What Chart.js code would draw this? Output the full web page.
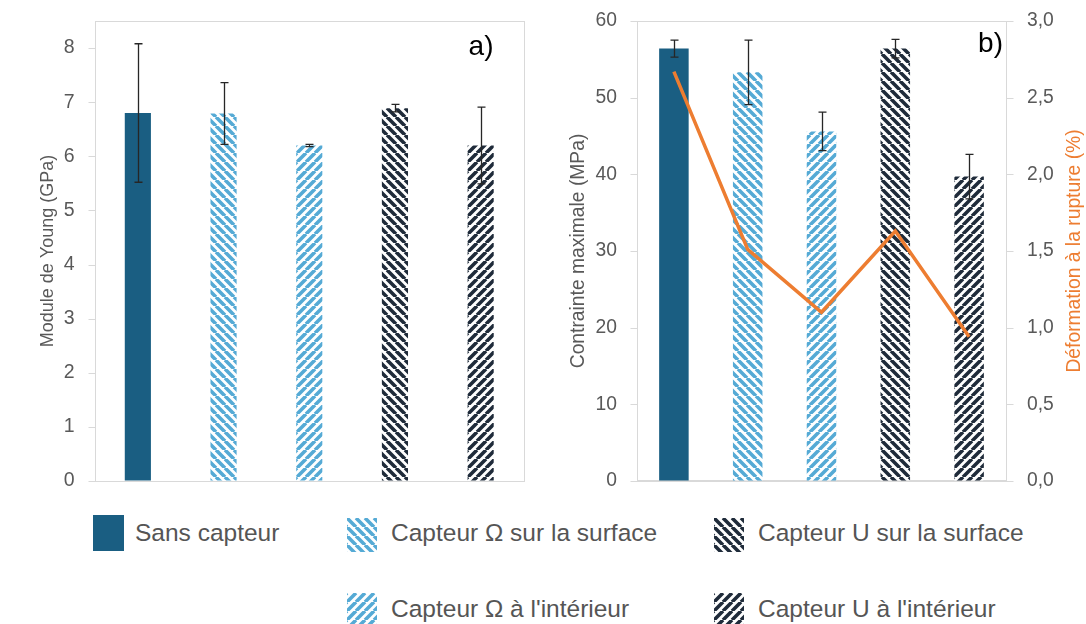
<!DOCTYPE html>
<html><head><meta charset="utf-8">
<script src="https://cdn.jsdelivr.net/npm/chart.js@4.4.0/dist/chart.umd.min.js"></script>
<style>
body{margin:0;background:#fff;width:1086px;height:624px;position:relative;overflow:hidden;font-family:"Liberation Sans",Arial,sans-serif;}
#ca{position:absolute;left:0;top:0;}
#cb{position:absolute;left:540px;top:0;}
.sw{position:absolute;}
.lt{position:absolute;font-size:24.5px;color:#555;line-height:30px;white-space:nowrap;}
</style></head><body>
<canvas id="ca" width="540" height="500"></canvas>
<canvas id="cb" width="546" height="500"></canvas>
<div id="legend"></div>
<script>
// ---- data ----
const categories = ["Sans capteur", "Capteur Ω sur la surface", "Capteur Ω à l'intérieur", "Capteur U sur la surface", "Capteur U à l'intérieur"];
const youngModulus = [6.80, 6.79, 6.20, 6.89, 6.20];
const youngErr = [1.28, 0.57, 0.02, 0.07, 0.71];
const maxStress = [56.4, 53.3, 45.6, 56.4, 39.7];
const stressErr = [1.1, 4.2, 2.5, 1.2, 2.9];
const strainAtBreak = [2.67, 1.51, 1.10, 1.63, 0.94];
const ticksYoung = [0, 1, 2, 3, 4, 5, 6, 7, 8];
const ticksStress = [0, 10, 20, 30, 40, 50, 60];
const ticksStrain = [0, 0.5, 1.0, 1.5, 2.0, 2.5, 3.0];
const legendRows = [[0, 1, 3], [null, 2, 4]];

// ---- styles ----
const SOLID = '#1A5E82', LIGHT = '#55AAD5', DARK = '#1F2B3A';
const fillSpec = [[SOLID, null], [LIGHT, 'down'], [LIGHT, 'up'], [DARK, 'down'], [DARK, 'up']];
const FONT = "'Liberation Sans', Arial, sans-serif";
const AXIS_GRAY = '#D9D9D9';
Chart.defaults.font.family = FONT;

function makeTile(color, dir) {
  const P = 9;
  const c = document.createElement('canvas'); c.width = P; c.height = P;
  const g = c.getContext('2d');
  g.fillStyle = '#fff'; g.fillRect(0, 0, P, P);
  g.strokeStyle = color; g.lineWidth = 3.6;
  g.beginPath();
  for (const k of [-P, 0, P]) {
    if (dir === 'down') { g.moveTo(k, 0); g.lineTo(k + P, P); }
    else { g.moveTo(k, P); g.lineTo(k + P, 0); }
  }
  g.stroke();
  return c;
}
function fillsFor(ctx) {
  return fillSpec.map(([col, dir]) => dir ? ctx.createPattern(makeTile(col, dir), 'repeat') : col);
}

const errorBarPlugin = {
  id: 'errorBars',
  afterDatasetsDraw(chart, args, opts) {
    const meta = chart.getDatasetMeta(opts.datasetIndex);
    const scale = chart.scales[meta.yAxisID];
    const ds = chart.data.datasets[opts.datasetIndex];
    const ctx = chart.ctx;
    ctx.save(); ctx.strokeStyle = '#262626'; ctx.lineWidth = 1.3;
    meta.data.forEach((bar, i) => {
      const v = ds.data[i], e = opts.errors[i];
      const yT = scale.getPixelForValue(v + e), yB = scale.getPixelForValue(v - e);
      const x = Math.round(bar.x) + 0.5;
      ctx.beginPath();
      ctx.moveTo(x, yT); ctx.lineTo(x, yB);
      ctx.moveTo(x - 4, yT); ctx.lineTo(x + 4, yT);
      ctx.moveTo(x - 4, yB); ctx.lineTo(x + 4, yB);
      ctx.stroke();
    });
    ctx.restore();
  }
};
// plot frame + short outer tick marks (7px) on the value axes
const framePlugin = {
  id: 'frame',
  beforeDatasetsDraw(chart) {
    const a = chart.chartArea, ctx = chart.ctx;
    ctx.save(); ctx.strokeStyle = AXIS_GRAY; ctx.lineWidth = 1;
    ctx.strokeRect(Math.round(a.left) + 0.5, Math.round(a.top) + 0.5, Math.round(a.right - a.left), Math.round(a.bottom - a.top));
    ctx.beginPath();
    Object.values(chart.scales).forEach(s => {
      if (s.axis !== 'y') return;
      const isRight = s.position === 'right';
      const x0 = isRight ? Math.round(a.right) + 0.5 : Math.round(a.left) + 0.5;
      const x1 = isRight ? x0 + 7 : x0 - 7;
      s.ticks.forEach(t => {
        const y = Math.round(s.getPixelForValue(t.value)) + 0.5;
        ctx.moveTo(x0, y); ctx.lineTo(x1, y);
      });
    });
    ctx.stroke();
    ctx.restore();
  }
};
const textPlugin = {
  id: 'texts',
  afterDraw(chart, args, opts) {
    const a = chart.chartArea, ctx = chart.ctx;
    ctx.save();
    ctx.fillStyle = '#000'; ctx.font = '28px ' + FONT;
    ctx.textAlign = 'right'; ctx.textBaseline = 'middle';
    ctx.fillText(opts.panel, a.right - opts.panelDx, opts.panelY);
    if (opts.rightTitle) {
      ctx.translate(opts.rightTitleX, (a.top + a.bottom) / 2);
      ctx.rotate(-Math.PI / 2);
      ctx.textAlign = 'center';
      ctx.fillStyle = '#ED7D31'; ctx.font = '19.3px ' + FONT;
      ctx.fillText(opts.rightTitle, 0, 0);
    }
    ctx.restore();
  }
};

function yAxis(opts) {
  return Object.assign({
    grid: { display: true, drawOnChartArea: false, drawTicks: true, tickLength: 13.5, tickColor: 'rgba(0,0,0,0)', color: AXIS_GRAY },
    border: { display: true, color: AXIS_GRAY },
  }, opts);
}
function xAxis() {
  return {
    grid: { display: false, drawTicks: false, tickLength: 0 }, border: { display: true, color: AXIS_GRAY },
    ticks: { display: false }, afterFit(s) { s.height = 0; }
  };
}

// ---- chart a ----
const ctxA = document.getElementById('ca').getContext('2d');
new Chart(ctxA, {
  type: 'bar',
  data: { labels: categories, datasets: [{ data: youngModulus, backgroundColor: fillsFor(ctxA), borderWidth: 0, barPercentage: 0.305, categoryPercentage: 1 }] },
  options: {
    responsive: false, animation: false, events: [],
    layout: { padding: { top: 21, right: 16.5, bottom: 19, left: 0 } },
    plugins: {
      legend: { display: false }, tooltip: { enabled: false },
      errorBars: { datasetIndex: 0, errors: youngErr },
      texts: { panel: 'a)', panelDx: 30, panelY: 47 }
    },
    scales: {
      x: xAxis(),
      y: yAxis({
        min: 0, max: 8.5,
        afterBuildTicks(s) { s.ticks = ticksYoung.map(v => ({ value: v })); },
        afterFit(s) { s.width = 95; },
        ticks: { color: '#595959', font: { size: 19.5 }, padding: 7 },
        title: { display: true, text: 'Module de Young (GPa)', color: '#595959', font: { size: 18 }, padding: { top: 37, bottom: 0 } }
      })
    }
  },
  plugins: [framePlugin, errorBarPlugin, textPlugin]
});

// ---- chart b ----
const ctxB = document.getElementById('cb').getContext('2d');
new Chart(ctxB, {
  type: 'bar',
  data: {
    labels: categories,
    datasets: [
      { type: 'line', data: strainAtBreak, yAxisID: 'y1', borderColor: '#ED7D31', borderWidth: 3.5, pointRadius: 0, fill: false, order: 0, tension: 0 },
      { type: 'bar', data: maxStress, yAxisID: 'y', backgroundColor: fillsFor(ctxB), borderWidth: 0, barPercentage: 0.4, categoryPercentage: 1, order: 1 }
    ]
  },
  options: {
    responsive: false, animation: false, events: [],
    layout: { padding: { top: 21, right: 0, bottom: 19, left: 0 } },
    plugins: {
      legend: { display: false }, tooltip: { enabled: false },
      errorBars: { datasetIndex: 1, errors: stressErr },
      texts: { panel: 'b)', panelDx: 3, panelY: 44, rightTitle: 'Déformation à la rupture (%)', rightTitleX: 534.5 }
    },
    scales: {
      x: xAxis(),
      y: yAxis({
        position: 'left', min: 0, max: 60,
        afterBuildTicks(s) { s.ticks = ticksStress.map(v => ({ value: v })); },
        afterFit(s) { s.width = 97; },
        ticks: { color: '#595959', font: { size: 19.3 }, padding: 6.5 },
        title: { display: true, text: 'Contrainte maximale (MPa)', color: '#595959', font: { size: 19.3 }, padding: { top: 27, bottom: 0 } }
      }),
      y1: yAxis({
        position: 'right', min: 0, max: 3,
        afterBuildTicks(s) { s.ticks = ticksStrain.map(v => ({ value: v })); },
        afterFit(s) { s.width = 80; },
        ticks: { color: '#595959', font: { size: 19.3 }, padding: 7.5, callback: v => v.toFixed(1).replace('.', ',') }
      })
    }
  },
  plugins: [framePlugin, errorBarPlugin, textPlugin]
});

// ---- legend ----
const colX = [93, 347, 714];
const rowTxt = [517.5, 593.5];
const leg = document.getElementById('legend');
legendRows.forEach((row, r) => {
  row.forEach((idx, c) => {
    if (idx === null) return;
    const sw = document.createElement('canvas');
    sw.className = 'sw';
    const w = idx === 0 ? 31 : 30, h = idx === 0 ? 36 : (r === 0 ? 34 : 31);
    sw.width = w; sw.height = h;
    sw.style.left = colX[c] + 'px';
    sw.style.top = (idx === 0 ? 515 : (r === 0 ? 518 : 593)) + 'px';
    const g = sw.getContext('2d');
    g.fillStyle = fillsFor(g)[idx];
    g.fillRect(0, 0, w, h);
    leg.appendChild(sw);
    const t = document.createElement('div');
    t.className = 'lt';
    t.textContent = categories[idx];
    t.style.left = (colX[c] + (c === 0 ? 42 : 44)) + 'px';
    t.style.top = rowTxt[r] + 'px';
    leg.appendChild(t);
  });
});
</script>
</body></html>
